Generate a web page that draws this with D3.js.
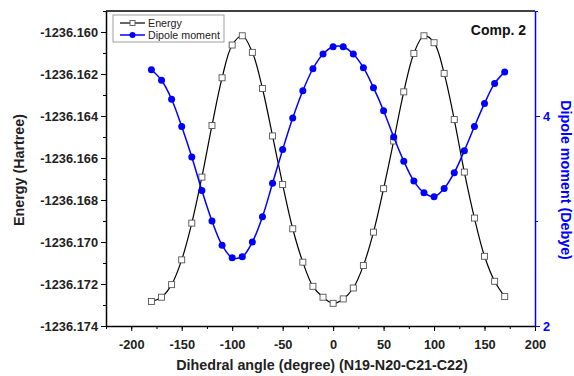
<!DOCTYPE html>
<html>
<head>
<meta charset="utf-8">
<script src="https://cdn.jsdelivr.net/npm/d3@7"></script>
<style>
  body { margin: 0; background: #fff; }
  svg { font-family: "Liberation Sans", Arial, sans-serif; }
</style>
</head>
<body>
<div id="vis"></div>
<script>
// dihedral angles (degree)
var angles = [-180,-170,-160,-150,-140,-130,-120,-110,-100,-90,-80,-70,-60,-50,-40,-30,-20,-10,
              0,10,20,30,40,50,60,70,80,90,100,110,120,130,140,150,160,170];
// energy (Hartree)
var energy = [-1236.17283,-1236.17263,-1236.17203,-1236.17085,-1236.16910,-1236.16691,-1236.16445,-1236.16218,
              -1236.16062,-1236.16018,-1236.16097,-1236.16269,-1236.16495,-1236.16726,-1236.16937,-1236.17096,
              -1236.17211,-1236.17263,-1236.17292,-1236.17271,-1236.17219,-1236.17112,-1236.16953,-1236.16746,
              -1236.16519,-1236.16285,-1236.16102,-1236.16018,-1236.16051,-1236.16197,-1236.16417,-1236.16667,
              -1236.16886,-1236.17068,-1236.17187,-1236.17260];
// dipole moment (Debye)
var dipole = [4.44,4.34,4.16,3.90,3.61,3.29,3.00,2.77,2.65,2.66,2.80,3.04,3.36,3.68,3.98,4.24,
              4.45,4.59,4.66,4.66,4.59,4.46,4.27,4.05,3.80,3.57,3.38,3.27,3.23,3.31,3.46,3.67,
              3.90,4.12,4.31,4.42];
var xTicks = [-200,-150,-100,-50,0,50,100,150,200];
var yLeftTicks = [-1236.174,-1236.172,-1236.170,-1236.168,-1236.166,-1236.164,-1236.162,-1236.160];
var yRightTicks = [2,4];

var W = 574, H = 376;
var margin = {top: 11, right: 39, bottom: 50, left: 106};
var width = W - margin.left - margin.right,
    height = H - margin.top - margin.bottom;

var svg = d3.select("#vis").append("svg")
    .attr("width", W).attr("height", H);
var g = svg.append("g")
    .attr("transform", "translate(" + margin.left + "," + margin.top + ")");

var x = d3.scaleLinear().domain([-225, 200]).range([0, width]);
var y = d3.scaleLinear().domain([-1236.174, -1236.159]).range([height, 0]);
var y2 = d3.scaleLinear().domain([2, 5]).range([height, 0]);

// plain hyphen for negative numbers
function hy(f) { return function (d) { return f(d).replace("\u2212", "-"); }; }

// minor ticks
g.append("g").attr("transform", "translate(0," + height + ")")
    .call(d3.axisBottom(x).tickValues(d3.range(-225, 201, 25)).tickSize(3).tickFormat(""))
    .call(a => a.select(".domain").remove());
g.append("g")
    .call(d3.axisLeft(y).tickValues(d3.range(0, 16).map(i => -1236.174 + i * 0.001)).tickSize(3).tickFormat(""))
    .call(a => a.select(".domain").remove());
g.append("g").attr("transform", "translate(" + width + ",0)")
    .call(d3.axisRight(y2).tickValues([3, 5]).tickSize(3).tickFormat(""))
    .call(a => a.select(".domain").remove())
    .selectAll("line").attr("stroke", "#0000ff");

// top frame
g.append("line").attr("x1", 0).attr("x2", width).attr("y1", 0).attr("y2", 0)
    .attr("stroke", "#000").attr("stroke-width", 1.5);

// main axes
var xAxis = g.append("g").attr("transform", "translate(0," + height + ")")
    .call(d3.axisBottom(x).tickValues(xTicks).tickSize(5).tickSizeOuter(0).tickFormat(hy(d3.format("d"))));
var yAxis = g.append("g")
    .call(d3.axisLeft(y).tickValues(yLeftTicks).tickSize(5).tickSizeOuter(0).tickFormat(hy(d3.format(".3f"))));
var yAxis2 = g.append("g").attr("transform", "translate(" + width + ",0)")
    .call(d3.axisRight(y2).tickValues(yRightTicks).tickSize(5).tickSizeOuter(0).tickFormat(d3.format("d")));

[xAxis, yAxis].forEach(function (a) {
    a.select(".domain").attr("stroke-width", 1.5);
    a.selectAll("text").attr("font-size", 12.8).attr("font-weight", "bold").attr("fill", "#222");
});
yAxis2.select(".domain").attr("stroke", "#0000ff").attr("stroke-width", 1.5);
yAxis2.selectAll("line").attr("stroke", "#0000ff");
yAxis2.selectAll("text").attr("font-size", 12.8).attr("font-weight", "bold").attr("fill", "#0000ff");
xAxis.selectAll("text").attr("dy", "1.15em");

// energy line
var lineE = d3.line().curve(d3.curveCatmullRom)
    .x(function (d, i) { return x(angles[i]); })
    .y(function (d) { return y(d); });
g.append("path").datum(energy)
    .attr("d", lineE).attr("fill", "none").attr("stroke", "#000").attr("stroke-width", 1.2);
g.selectAll(".sq").data(energy).enter().append("rect")
    .attr("class", "sq")
    .attr("x", function (d, i) { return x(angles[i]) - 3; })
    .attr("y", function (d) { return y(d) - 3; })
    .attr("width", 6).attr("height", 6)
    .attr("fill", "#fff").attr("stroke", "#555").attr("stroke-width", 0.9);

// dipole line
var lineD = d3.line().curve(d3.curveCatmullRom)
    .x(function (d, i) { return x(angles[i]); })
    .y(function (d) { return y2(d); });
g.append("path").datum(dipole)
    .attr("d", lineD).attr("fill", "none").attr("stroke", "#0000ff").attr("stroke-width", 1.5);
g.selectAll(".dot").data(dipole).enter().append("circle")
    .attr("class", "dot")
    .attr("cx", function (d, i) { return x(angles[i]); })
    .attr("cy", function (d) { return y2(d); })
    .attr("r", 3.5).attr("fill", "#0000ff");

// axis titles
svg.append("text")
    .attr("x", 322).attr("y", 370).attr("text-anchor", "middle")
    .attr("font-size", 14.3).attr("font-weight", "bold").attr("fill", "#222")
    .text("Dihedral angle (degree) (N19-N20-C21-C22)");
svg.append("text")
    .attr("transform", "translate(24,170) rotate(-90)")
    .attr("text-anchor", "middle")
    .attr("font-size", 14.3).attr("font-weight", "bold").attr("fill", "#222")
    .text("Energy (Hartree)");
svg.append("text")
    .attr("transform", "translate(561,180) rotate(90)")
    .attr("text-anchor", "middle")
    .attr("font-size", 14.3).attr("font-weight", "bold").attr("fill", "#0000ff")
    .text("Dipole moment (Debye)");

// title
svg.append("text")
    .attr("x", 526).attr("y", 35).attr("text-anchor", "end")
    .attr("font-size", 14).attr("font-weight", "bold").attr("fill", "#111")
    .text("Comp. 2");

// legend
var legend = svg.append("g").attr("transform", "translate(113,15)");
legend.append("rect").attr("width", 111).attr("height", 27)
    .attr("fill", "#fff").attr("stroke", "#888").attr("stroke-width", 0.8);
legend.append("line").attr("x1", 7).attr("x2", 32).attr("y1", 8).attr("y2", 8)
    .attr("stroke", "#000").attr("stroke-width", 1.2);
legend.append("rect").attr("x", 17).attr("y", 5.5).attr("width", 5).attr("height", 5)
    .attr("fill", "#fff").attr("stroke", "#555").attr("stroke-width", 0.9);
legend.append("text").attr("x", 35).attr("y", 12).attr("font-size", 10.7).attr("fill", "#222").text("Energy");
legend.append("line").attr("x1", 7).attr("x2", 32).attr("y1", 20).attr("y2", 20)
    .attr("stroke", "#0000ff").attr("stroke-width", 1.5);
legend.append("circle").attr("cx", 19.5).attr("cy", 20).attr("r", 3).attr("fill", "#0000ff");
legend.append("text").attr("x", 35).attr("y", 24).attr("font-size", 10.7).attr("fill", "#222").text("Dipole moment");
</script>
</body>
</html>
